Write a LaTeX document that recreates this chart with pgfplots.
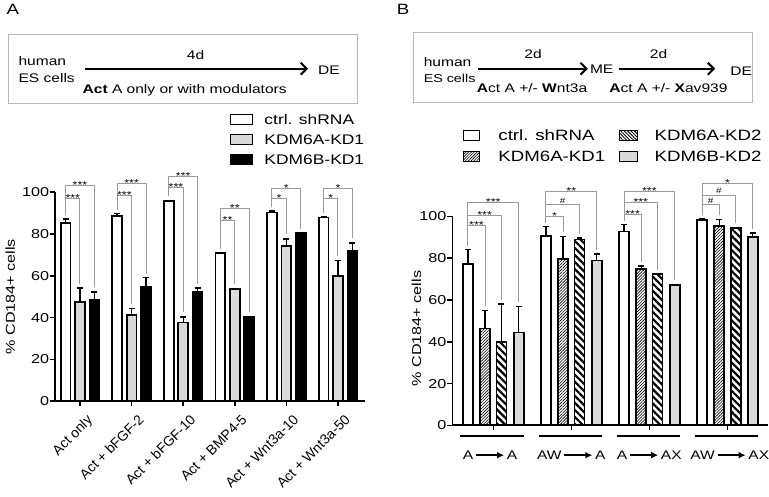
\documentclass[border=0pt]{standalone}
\usepackage{fontspec}
\setmainfont{Liberation Sans}[FakeStretch=1.25]
\newfontfamily\plainsans{Liberation Sans}
\usepackage{pgfplots}
\pgfplotsset{compat=1.18}
\usetikzlibrary{patterns.meta,arrows.meta}
\definecolor{bargray}{gray}{0.85}
\definecolor{brkgray}{gray}{0.6}
\definecolor{boxgray}{gray}{0.72}
\newsavebox\arrbox
\newcommand\fs[1]{\fontsize{#1}{#1}\selectfont}
\tikzset{
  brkline/.style={draw=brkgray, line width=1pt},
  stars/.style={font=\fs{10}, inner sep=0pt, anchor=base, yshift=-3pt},
  hashs/.style={font=\fs{8}, inner sep=0pt, anchor=base, yshift=1.5pt},
  boxtxt/.style={font=\fs{12.5}, inner sep=0pt},
  legtxt/.style={anchor=west, inner sep=0pt},
}
\newcommand\brk[7]{%
  \addplot[brkline, forget plot] coordinates {(#1,#2) (#1,#5) (#3,#5) (#3,#4)};
  \node[stars] at (axis cs:#6,#5) {#7};
}
\newcommand\brh[6]{%
  \addplot[brkline, forget plot] coordinates {(#1,#2) (#1,#5) (#3,#5) (#3,#4)};
  \node[hashs] at (axis cs:#6,#5) {\#};
}
\pgfplotsset{
  prism/.style={
    scale only axis, height=210pt, ymin=0, ymax=100,
    axis x line=bottom, axis y line=left,
    x axis line style={-, line width=1.8pt},
    y axis line style={-, line width=1.8pt},
    ytick={0,20,...,100},
    tick align=outside, major tick length=5pt,
    tick style={black, line width=1.5pt},
    /pgf/number format/assume math mode=true,
    yticklabel style={font=\fs{13}, inner sep=1pt},
    ylabel={\% CD184+ cells},
    ylabel style={font=\fs{13}, anchor=center},
    clip=false,
  },
  barbase/.style={ybar, bar shift=0pt, draw=black, line width=1.8pt,
    error bars/y dir=plus, error bars/y explicit,
    error bars/error bar style={line width=1.3pt, black, solid},
    error bars/error mark options={rotate=90, line width=1.3pt, mark size=3pt, black, solid}},
}
\begin{document}
\sbox\arrbox{\tikz[baseline={(0,-4.3pt)}]\draw[line width=1.6pt,-{Latex[length=7pt,width=7pt]}] (0,0)--(28pt,0);}
\begin{tikzpicture}
\path[use as bounding box] (0,0) rectangle (769pt,499pt);

% ---------- Panel A header ----------
\node[font=\fs{15}, anchor=north west, inner sep=0pt] at (3pt,495pt) {A};
\draw[boxgray, line width=0.9pt] (5pt,464pt) rectangle (356pt,395pt);
\node[boxtxt, anchor=west] at (15pt,438pt) {human};
\node[boxtxt, anchor=west] at (15pt,421pt) {ES cells};
\draw[line width=2pt, -{Straight Barb[length=6pt,width=12pt]}] (82pt,430pt) -- (306pt,430pt);
\node[boxtxt] at (193pt,444pt) {4d};
\node[boxtxt, anchor=west] at (316pt,428pt) {DE};
\node[boxtxt, anchor=base] at (182pt,405.5pt) {\textbf{Act} A only or with modulators};

% legend A
\draw[line width=1.4pt, fill=white] (228pt,374pt) rectangle (250pt,384pt);
\node[legtxt, font=\fs{14}] at (262pt,379pt) {ctrl. shRNA};
\draw[line width=1.4pt, fill=bargray] (228pt,354pt) rectangle (250pt,364pt);
\node[legtxt, font=\fs{14}] at (262pt,359pt) {KDM6A-KD1};
\draw[line width=1.4pt, fill=black] (228pt,334pt) rectangle (250pt,344pt);
\node[legtxt, font=\fs{14}] at (262pt,339pt) {KDM6B-KD1};

% ---------- Panel B header ----------
\node[font=\fs{15}, anchor=north west, inner sep=0pt] at (395pt,495pt) {B};
\draw[boxgray, line width=0.9pt] (412pt,466pt) rectangle (752pt,396pt);
\node[boxtxt, anchor=west] at (422pt,437pt) {human};
\node[boxtxt, anchor=west, font=\fs{11.5}] at (422pt,420pt) {ES cells};
\draw[line width=2pt, -{Straight Barb[length=6pt,width=12pt]}] (477pt,430pt) -- (587pt,430pt);
\node[boxtxt] at (532pt,445pt) {2d};
\node[boxtxt, anchor=west] at (589pt,429pt) {ME};
\draw[line width=2pt, -{Straight Barb[length=6pt,width=12pt]}] (618pt,430pt) -- (715pt,430pt);
\node[boxtxt] at (658pt,445pt) {2d};
\node[boxtxt, anchor=west] at (730pt,427pt) {DE};
\node[boxtxt, anchor=base] at (531pt,406pt) {\textbf{A}ct A +/- \textbf{W}nt3a};
\node[boxtxt, anchor=base] at (668pt,406pt) {\textbf{A}ct A +/- \textbf{X}av939};

% legend B
\draw[line width=1.3pt, fill=white] (462pt,358pt) rectangle (478pt,368pt);
\node[legtxt, font=\fs{15}] at (497pt,363pt) {ctrl. shRNA};
\draw[line width=1.3pt, pattern={Lines[angle=45,distance=2pt,line width=0.6pt]}] (462pt,337pt) rectangle (478pt,347pt);
\node[legtxt, font=\fs{15}] at (497pt,342pt) {KDM6A-KD1};
\draw[line width=1.3pt, pattern={Lines[angle=-45,distance=2.4pt,line width=0.9pt]}] (619pt,358pt) rectangle (637pt,368pt);
\node[legtxt, font=\fs{15}] at (654pt,363pt) {KDM6A-KD2};
\draw[line width=1.3pt, fill=bargray] (619pt,337pt) rectangle (637pt,347pt);
\node[legtxt, font=\fs{15}] at (654pt,342pt) {KDM6B-KD2};

% ---------- Panel A axis ----------
\begin{axis}[prism, at={(52pt,96pt)}, anchor=south west, width=311pt,
  xmin=-0.48, xmax=5.52, xtick={0,...,5},
  xticklabels={Act only, Act + bFGF-2, Act + bFGF-10, Act + BMP4-5, Act + Wnt3a-10, Act + Wnt3a-50},
  xticklabel style={xshift=6pt, yshift=-6pt, font=\plainsans\fs{14}, rotate=45, anchor=north east, inner sep=1pt},
  ylabel style={at={(axis description cs:-0.145,0.5)}},
]
\addplot[barbase, fill=white, bar width=0.19] coordinates {
 (-0.28,85.1) +- (0,2.0) (0.72,88.4) +- (0,1.3) (1.72,95.9) +- (0,0) (2.72,71.0) +- (0,0) (3.72,90.3) +- (0,0.7) (4.72,87.9) +- (0,0.4)};
\addplot[barbase, fill=bargray, bar width=0.19] coordinates {
 (0,47.5) +- (0,6.6) (1,41.1) +- (0,3.2) (2,37.6) +- (0,2.7) (3,53.8) +- (0,0) (4,74.4) +- (0,3.2) (5,59.7) +- (0,7.6)};
\addplot[barbase, fill=black, bar width=0.19] coordinates {
 (0.28,48.3) +- (0,3.9) (1.28,54.9) +- (0,4.1) (2.28,52.2) +- (0,1.9) (3.28,40.3) +- (0,0) (4.28,80.3) +- (0,0.2) (5.28,72.0) +- (0,3.7)};
\brk{-0.28}{89}{0}{56}{97}{-0.14}{***}
\brk{-0.28}{89}{0.28}{54.5}{103}{0}{***}
\brk{0.72}{91.5}{1}{46.5}{98.5}{0.86}{***}
\brk{0.72}{91.5}{1.28}{61}{104}{1}{***}
\brk{1.72}{98}{2}{42.5}{102}{1.86}{***}
\brk{1.72}{98}{2.28}{56}{107.5}{2}{***}
\brk{2.72}{73}{3}{56}{86.5}{2.86}{**}
\brk{2.72}{73}{3.28}{42.5}{92}{3}{**}
\brk{3.72}{93}{4}{80}{97}{3.86}{*}
\brk{3.72}{93}{4.28}{82.5}{101.5}{4}{*}
\brk{4.72}{90}{5}{69.5}{97}{4.86}{*}
\brk{4.72}{90}{5.28}{78}{101.5}{5}{*}
\end{axis}

% ---------- Panel B axis ----------
\begin{axis}[prism, at={(451pt,71.7pt)}, anchor=south west, width=317pt,
  xmin=-0.523, xmax=3.52, xtick={0,...,3}, xticklabels={},
  ylabel style={at={(axis description cs:-0.114,0.463)}},
]
\addplot[barbase, fill=white, bar width=0.128] coordinates {
 (-0.325,77.3) +- (0,6.7) (0.675,90.5) +- (0,4.7) (1.675,92.7) +- (0,3.3) (2.675,98.2) +- (0,0.5)};
\addplot[barbase, pattern={Lines[angle=45,distance=2.1pt,line width=0.6pt]}, bar width=0.128] coordinates {
 (-0.105,46.3) +- (0,8.7) (0.895,79.5) +- (0,10.8) (1.895,74.9) +- (0,1.3) (2.895,95.5) +- (0,2.9)};
\addplot[barbase, pattern={Lines[angle=-45,distance=5pt,line width=2.2pt]}, bar width=0.128] coordinates {
 (0.105,39.7) +- (0,18.3) (1.105,88.9) +- (0,0.8) (2.105,72.5) +- (0,0) (3.105,94.6) +- (0,0.2)};
\addplot[barbase, fill=bargray, bar width=0.128] coordinates {
 (0.325,44.4) +- (0,12.6) (1.325,78.9) +- (0,3.1) (2.325,67.3) +- (0,0.2) (3.325,90.0) +- (0,2.0)};
\brk{-0.325}{86}{-0.105}{57}{95.5}{-0.215}{***}
\brk{-0.325}{86}{0.105}{60}{100.5}{-0.11}{***}
\brk{-0.325}{86}{0.325}{59}{106.5}{0}{***}
\brk{0.675}{97}{0.895}{92.5}{100}{0.785}{*}
\brh{0.675}{97}{1.105}{91.5}{105.5}{0.89}
\brk{0.675}{97}{1.325}{84}{111.7}{1}{**}
\brk{1.675}{98}{1.895}{78}{101}{1.785}{***}
\brk{1.675}{98}{2.105}{74.5}{106.5}{1.89}{***}
\brk{1.675}{98}{2.325}{69.5}{111.7}{2}{***}
\brh{2.675}{100.5}{2.895}{100.5}{105.5}{2.785}
\brh{2.675}{100.5}{3.105}{97}{110}{2.89}
\brk{2.675}{100.5}{3.325}{94}{115.5}{3}{*}
% group labels
\addplot[black, line width=1.5pt, forget plot] coordinates {(-0.42,-5.1) (0.39,-5.1)};
\addplot[black, line width=1.5pt, forget plot] coordinates {(0.58,-5.1) (1.39,-5.1)};
\addplot[black, line width=1.5pt, forget plot] coordinates {(1.58,-5.1) (2.39,-5.1)};
\addplot[black, line width=1.5pt, forget plot] coordinates {(2.58,-5.1) (3.39,-5.1)};
\node[font=\fs{12.5}, anchor=base, inner sep=0pt] at (axis cs:-0.04,-16.3) {A\,\usebox\arrbox\,A};
\node[font=\fs{12.5}, anchor=base, inner sep=0pt] at (axis cs:1,-16.3) {AW\,\usebox\arrbox\,A};
\node[font=\fs{12.5}, anchor=base, inner sep=0pt] at (axis cs:2,-16.3) {A\,\usebox\arrbox\,AX};
\node[font=\fs{12.5}, anchor=base, inner sep=0pt] at (axis cs:3.03,-16.3) {AW\,\usebox\arrbox\,AX};
\end{axis}
\end{tikzpicture}
\end{document}
